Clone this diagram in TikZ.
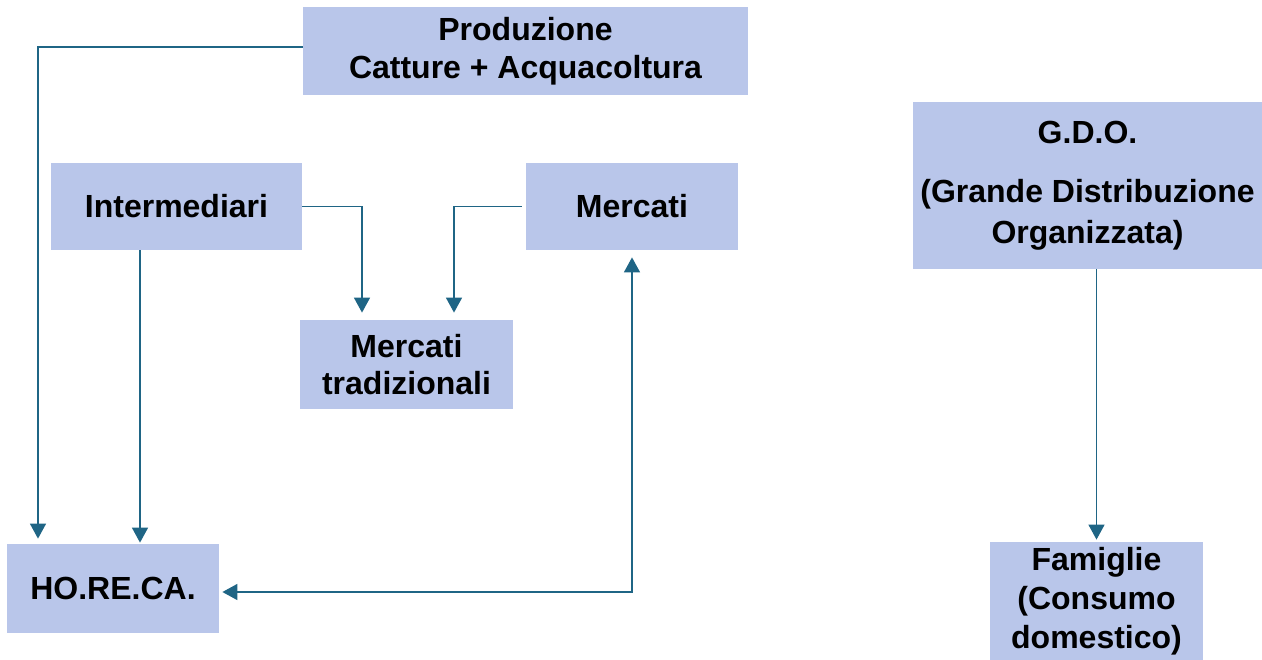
\documentclass[tikz,border=0pt]{standalone}
\usepackage{fontspec}
\setmainfont{Liberation Sans}
\usepackage{tikz}
\usetikzlibrary{positioning,calc,arrows.meta}
\definecolor{boxfill}{RGB}{185,198,234}
\definecolor{linkcol}{RGB}{31,101,133}

\begin{document}
\begin{tikzpicture}[x=0.5pt, y=-0.5pt,
  box/.style={fill=boxfill, inner sep=2pt, align=center, font=\fontsize{16}{18.5}\selectfont\bfseries},
  flow/.style={draw=linkcol, line width=0.75pt, -{Triangle[length=7.5pt,width=8pt]}}]
            \useasboundingbox (0,0) rectangle (1262,659);

            % Filiera
            \node[box, minimum width=222.5pt, minimum height=44pt] (prod) at (525.5,51) {Produzione\\[0.5pt]Catture + Acquacoltura};
            \node[box, minimum width=125.5pt, minimum height=43.5pt] (inter) at (176.5,206.5) {Intermediari};
            \node[box, minimum width=106pt, minimum height=43.5pt] (merc) at (632,206.5) {Mercati};
            \node[box, minimum width=106.5pt, minimum height=44.5pt] (trad) at (406.5,364.5) {Mercati\\tradizionali};
            \node[box, minimum width=106pt, minimum height=44.5pt] (horeca) at (113,588.5) {HO.RE.CA.};

            % G.D.O.
            \node[box, minimum width=174.5pt, minimum height=83.5pt] (gdo) at (1087.5,185.5) {G.D.O.\\[11pt](Grande Distribuzione\\[2pt]Organizzata)};
            \node[box, minimum width=106.5pt, minimum height=59pt] (fam) at (1096.5,601) {Famiglie\\[1pt](Consumo\\[1pt]domestico)};

            % Connectors
            \draw[flow, shorten >=2.5pt] ([yshift=2pt]prod.west) -| ([xshift=-37.5pt]horeca.north);
            \draw[flow, shorten >=0.5pt] ([xshift=-18.25pt]inter.south) -- ([xshift=-18.25pt]inter.south |- horeca.north);
            \draw[flow, shorten >=3.5pt] (inter.east) -| ([xshift=-22.25pt]trad.north);
            \draw[flow, shorten >=3.5pt, shorten <=2pt] (merc.west) -| ([xshift=23.75pt]trad.north);
            \draw[flow, {Triangle[length=7.5pt,width=8pt]}-{Triangle[length=7.5pt,width=8pt]}, shorten <=1.5pt, shorten >=3.5pt] ([yshift=-1.75pt]horeca.east) -| (merc.south);
            \draw[flow, shorten >=1pt] (gdo.south -| fam.north) -- (fam.north);
        \end{tikzpicture}
\end{document}
